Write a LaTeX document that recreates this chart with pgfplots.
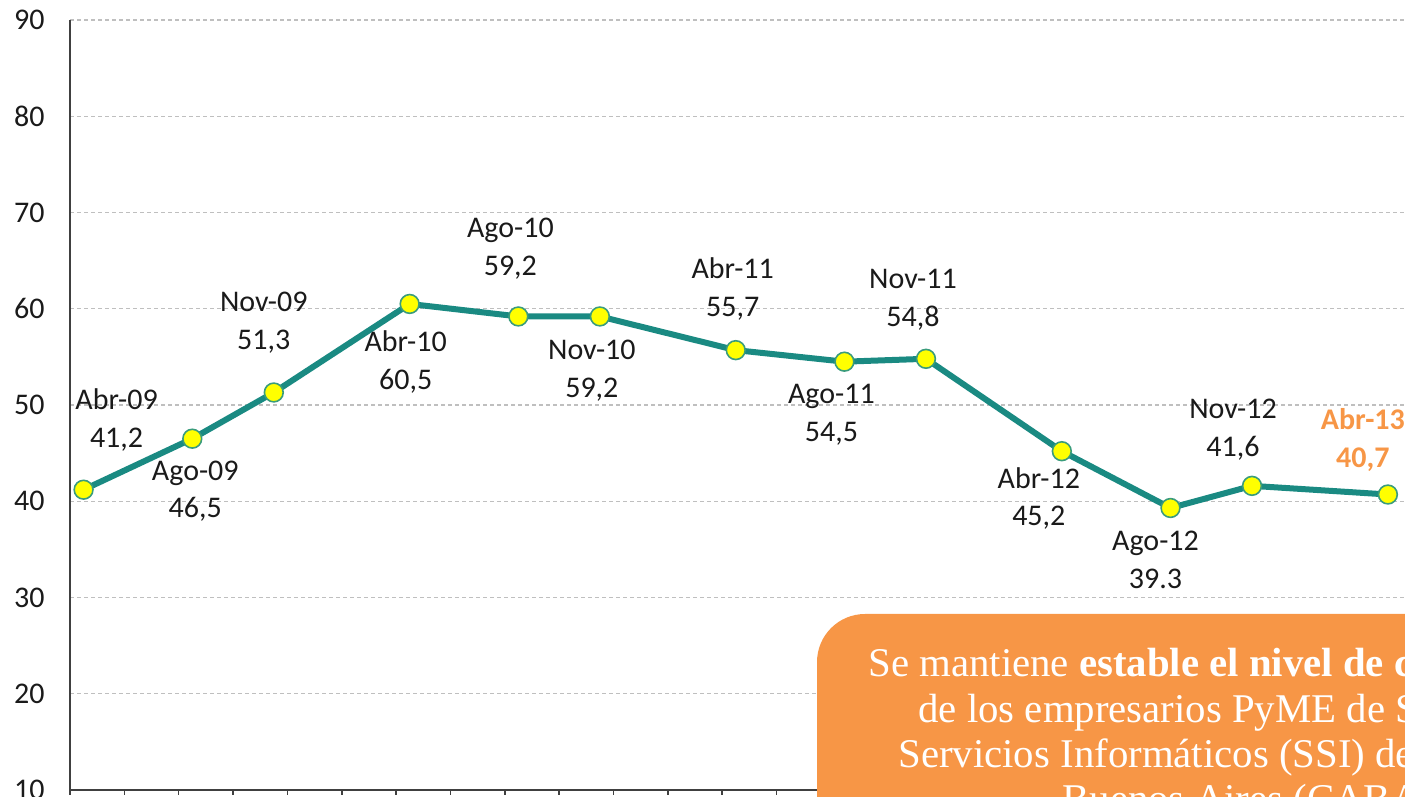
\documentclass[border=0pt]{standalone}
\usepackage{pgfplots}
\pgfplotsset{compat=1.18}
\usepackage{fontspec}
\setmainfont{Carlito}
\newfontfamily\boxfont{Liberation Serif}
\definecolor{lineteal}{HTML}{1A8A82}
\definecolor{mkborder}{HTML}{3A9C7C}
\definecolor{mkfill}{HTML}{FFFF00}
\definecolor{gridgray}{HTML}{BFBFBF}
\definecolor{axisgray}{HTML}{404040}
\definecolor{boxorange}{HTML}{F79646}
\definecolor{txt}{HTML}{1A1A1A}
\tikzset{lbl/.style={font=\fontsize{15bp}{18.75bp}\selectfont, text=txt, align=center, inner sep=0pt}}

\begin{document}
\begin{tikzpicture}
\useasboundingbox (0,0) rectangle (702.5bp,398.5bp);
\clip (0,0) rectangle (702.5bp,398.5bp);
\begin{axis}[
    scale only axis,
    at={(35bp,3.5bp)}, anchor=south west,
    width=667.5bp, height=385bp,
    xmin=-0.5, xmax=48.63,
    ymin=10, ymax=90,
    axis x line*=bottom, axis y line*=left,
    axis line style={-, axisgray, line width=1bp},
    xtick={-0.5,1.5,...,47.5},
    xticklabels={},
    x tick style={axisgray, line width=0.8bp},
    tick align=outside,
    major tick length=2.5bp,
    ytick={10,20,...,90},
    y tick style={draw=none},
    yticklabel style={font=\fontsize{15bp}{17bp}\selectfont, text=txt, inner sep=0pt, xshift=-10bp},
    /pgf/number format/assume math mode=true,
    ymajorgrids,
    grid style={gridgray, line width=0.6bp, dash pattern=on 2bp off 1.5bp},
    clip=false,
]
\addplot[lineteal, line width=3bp, mark=*,
    mark options={mkfill, draw=mkborder, line width=0.8bp}, mark size=4.7bp]
    coordinates {(0,41.2) (4,46.5) (7,51.3) (12,60.5) (16,59.2) (19,59.2)
                 (24,55.7) (28,54.5) (31,54.8) (36,45.2) (40,39.3) (43,41.6) (48,40.7)};

\node[lbl, xshift=16.5bp, yshift=34.75bp]  at (axis cs:0,41.2)  {Abr-09\\41,2};
\node[lbl, xshift=1.5bp,  yshift=-26.25bp] at (axis cs:4,46.5)  {Ago-09\\46,5};
\node[lbl, xshift=-5bp,   yshift=35bp]     at (axis cs:7,51.3)  {Nov-09\\51,3};
\node[lbl, xshift=-2bp,   yshift=-29bp]    at (axis cs:12,60.5) {Abr-10\\60,5};
\node[lbl, xshift=-4bp,   yshift=34bp]     at (axis cs:16,59.2) {Ago-10\\59,2};
\node[lbl, xshift=-4bp,   yshift=-27bp]    at (axis cs:19,59.2) {Nov-10\\59,2};
\node[lbl, xshift=-1.5bp, yshift=30.5bp]   at (axis cs:24,55.7) {Abr-11\\55,7};
\node[lbl, xshift=-6.5bp, yshift=-26.5bp]  at (axis cs:28,54.5) {Ago-11\\54,5};
\node[lbl, xshift=-6.5bp, yshift=29.5bp]   at (axis cs:31,54.8) {Nov-11\\54,8};
\node[lbl, xshift=-11.5bp,yshift=-23.75bp] at (axis cs:36,45.2) {Abr-12\\45,2};
\node[lbl, xshift=-7.5bp, yshift=-26bp]    at (axis cs:40,39.3) {Ago-12\\39.3};
\node[lbl, xshift=-9.5bp, yshift=28bp]     at (axis cs:43,41.6) {Nov-12\\41,6};
\node[lbl, xshift=-12.5bp,yshift=27.25bp, text=boxorange, font=\fontsize{15bp}{18.75bp}\selectfont\bfseries]
    at (axis cs:48,40.7) {Abr-13\\40,7};
\end{axis}

% cuadro naranja
\fill[boxorange, rounded corners=24bp] (408.5bp,91.5bp) rectangle (800bp,-40bp);
\begin{scope}[every node/.style={anchor=base west, inner sep=0pt, text=white,
    font=\boxfont\fontsize{20.4bp}{24bp}\selectfont}]
\node at (434bp,60bp)   {Se mantiene \textbf{estable el nivel de confianza}};
\node at (459bp,37.5bp) {de los empresarios PyME de Software y};
\node at (449bp,15bp)   {Servicios Informáticos (SSI) de la Ciudad de};
\node at (531bp,-7.5bp) {Buenos Aires (CABA)};
\end{scope}
\end{tikzpicture}
\end{document}
